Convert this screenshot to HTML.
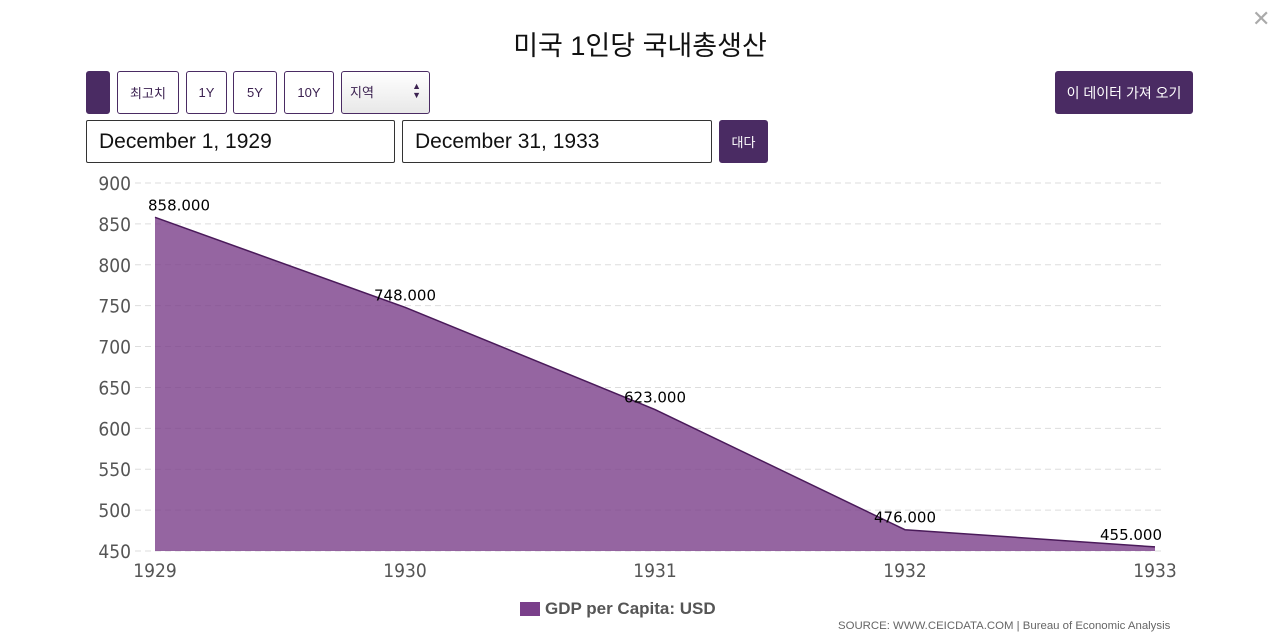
<!DOCTYPE html>
<html><head><meta charset="utf-8">
<style>
body{margin:0;width:1280px;height:642px;background:#fff;font-family:"Liberation Sans","Noto Sans CJK KR",sans-serif;position:relative;overflow:hidden}
.abs{position:absolute;box-sizing:border-box}
.btn{border:1px solid #4a2b63;border-radius:3px;background:#fff;color:#3b2150;font-size:13px;display:flex;align-items:center;justify-content:center}
.dark{background:#4a2b63;color:#fff}
.inp{border:1px solid #333;background:#fff;font-size:21px;color:#111;padding-left:12px;display:flex;align-items:center;border-radius:2px}
</style></head><body>
<div class="abs" style="left:0;width:1280px;top:24px;text-align:center;font-size:27px;color:#111">미국 1인당 국내총생산</div>
<div class="abs" style="left:1252px;top:6px;font-size:22px;color:#aaa">✕</div>
<div class="abs btn dark" style="left:86px;top:71px;width:24px;height:43px"></div>
<div class="abs btn" style="left:117px;top:71px;width:62px;height:43px">최고치</div>
<div class="abs btn" style="left:186px;top:71px;width:41px;height:43px">1Y</div>
<div class="abs btn" style="left:233px;top:71px;width:44px;height:43px">5Y</div>
<div class="abs btn" style="left:284px;top:71px;width:50px;height:43px">10Y</div>
<div class="abs btn" style="left:341px;top:71px;width:89px;height:43px;background:linear-gradient(#fff,#e8e8e8);justify-content:space-between;align-items:flex-start;padding:10px 8px">지역<span style="font-size:9px;line-height:9px">▲<br>▼</span></div>
<div class="abs btn dark" style="left:1055px;top:71px;width:138px;height:43px;font-size:14px">이 데이터 가져 오기</div>
<div class="abs inp" style="left:86px;top:120px;width:309px;height:43px">December 1, 1929</div>
<div class="abs inp" style="left:402px;top:120px;width:310px;height:43px">December 31, 1933</div>
<div class="abs btn dark" style="left:719px;top:120px;width:49px;height:43px">대다</div>
<svg class="abs" style="left:0;top:0" width="1280" height="642" id="chart"></svg>
<div class="abs" style="left:520px;top:599px;font-size:17px;font-weight:bold;color:#555;display:flex;align-items:center"><span style="display:inline-block;width:20px;height:14px;background:#7a3f8a;margin-right:5px"></span>GDP per Capita: USD</div>
<div class="abs" style="left:838px;top:620px;font-size:11.4px;color:#666">SOURCE: WWW.CEICDATA.COM | Bureau of Economic Analysis</div>
<script>
const years=['1929','1930','1931','1932','1933'];
const values=[858,748,623,476,455];
const labels=['858.000','748.000','623.000','476.000','455.000'];
const yTicks=[450,500,550,600,650,700,750,800,850,900];
const ns='http://www.w3.org/2000/svg';
const svg=document.getElementById('chart');
const x=i=>155+i*(1000/(years.length-1));
const y=v=>551-(v-450)*368/450;
function mk(t,a){const e=document.createElementNS(ns,t);for(const k in a)e.setAttribute(k,a[k]);svg.appendChild(e);return e;}
yTicks.forEach(v=>{
  const l=mk('line',{x1:135,x2:1165,y1:y(v),y2:y(v),stroke:'#ddd','stroke-dasharray':'6,4'});
  
  
  const t=mk('text',{x:131,y:y(v)+7,'text-anchor':'end','font-size':'19','fill':'#555','font-family':'DejaVu Sans Condensed, DejaVu Sans, sans-serif'});
  t.textContent=v;
  
  
});
let d='M'+x(0)+','+y(450);
values.forEach((v,i)=>d+=' L'+x(i)+','+y(v));
d+=' L'+x(values.length-1)+','+y(450)+' Z';
const a=mk('path',{d:d,fill:'#7a3f8a','fill-opacity':'0.8'});


const ln=mk('polyline',{points:values.map((v,i)=>x(i)+','+y(v)).join(' '),fill:'none',stroke:'#4a1a5a','stroke-width':'1.5'});


years.forEach((yr,i)=>{
  const t=mk('text',{x:x(i),y:577,'text-anchor':'middle','font-size':'19','fill':'#555','font-family':'DejaVu Sans Condensed, DejaVu Sans, sans-serif'});
  t.textContent=yr;
  
  
  let cx=Math.min(Math.max(x(i),179),1131);
  const dl=mk('text',{x:cx,y:y(values[i])-7,'text-anchor':'middle','font-size':'15','fill':'#000','font-family':'DejaVu Sans, sans-serif'});
  dl.textContent=labels[i];
  
  
});
</script>
</body></html>
